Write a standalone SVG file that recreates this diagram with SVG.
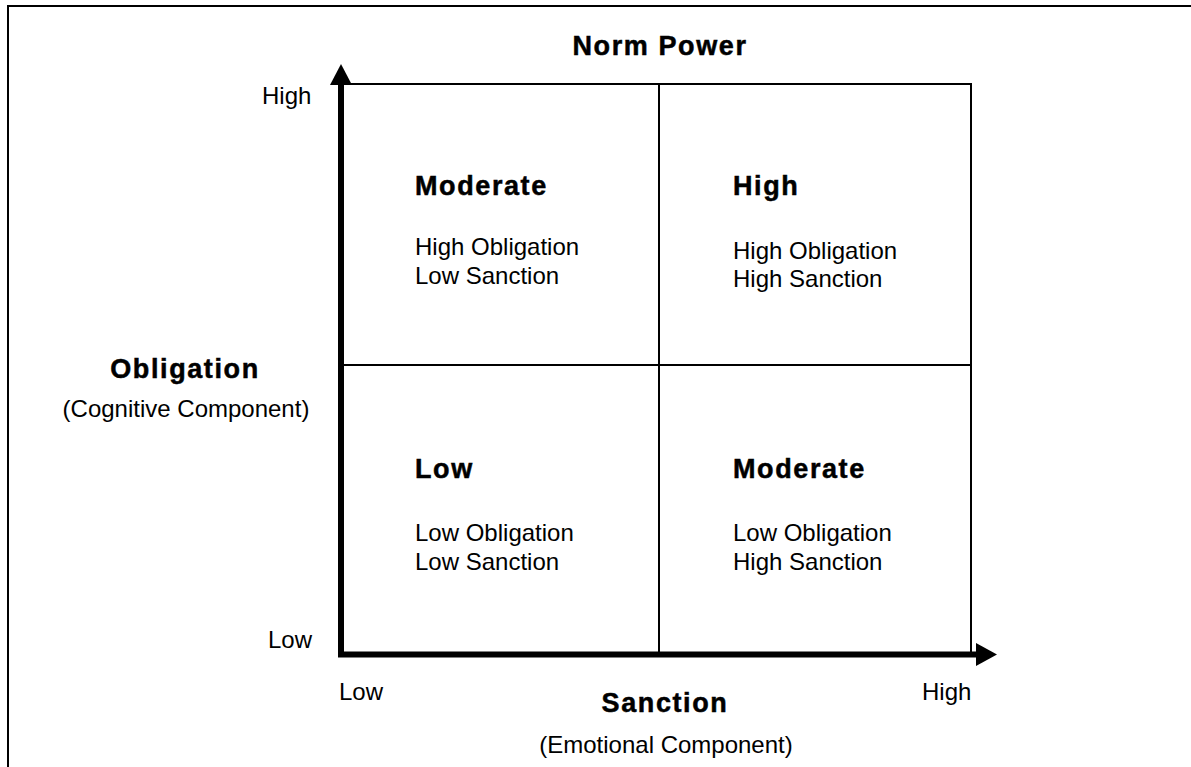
<svg xmlns="http://www.w3.org/2000/svg" width="1191" height="767" viewBox="0 0 1191 767">
<style>
.t{font-family:"Liberation Sans",Arial,sans-serif;fill:#000}
.b{font-weight:bold;font-size:27px;letter-spacing:1.6px;stroke:#000;stroke-width:0.5}
.r{font-size:24px}
.thin{stroke:#000;stroke-width:2;fill:none}
.axis{stroke:#000;stroke-width:6;fill:none}
</style>
<rect width="1191" height="767" fill="#fff"/>
<g id="frame">
<line class="thin" x1="7" y1="6" x2="1191" y2="6"/>
<line class="thin" x1="8" y1="5" x2="8" y2="767"/>
</g>
<g id="grid">
<rect class="thin" x="341" y="84" width="630" height="570"/>
<line class="thin" x1="659" y1="84" x2="659" y2="654"/>
<line class="thin" x1="341" y1="365" x2="971" y2="365"/>
</g>
<g id="connectors">
<line class="axis" x1="341" y1="657" x2="341" y2="82"/>
<polygon points="341,64 330,85 352,85" fill="#000"/>
<line class="axis" x1="338" y1="654.5" x2="978" y2="654.5"/>
<polygon points="997,654.5 976,643 976,666" fill="#000"/>
</g>
<g id="title"><text class="t b" x="660" y="55" text-anchor="middle">Norm Power</text></g>
<g id="y-axis-labels">
<text class="t r" x="262" y="104">High</text>
<text class="t r" x="268" y="648">Low</text>
<text class="t b" x="185" y="378" text-anchor="middle">Obligation</text>
<text class="t r" x="186" y="417" text-anchor="middle">(Cognitive Component)</text>
</g>
<g id="x-axis-labels">
<text class="t r" x="339" y="700">Low</text>
<text class="t r" x="922" y="700">High</text>
<text class="t b" x="665" y="712" text-anchor="middle">Sanction</text>
<text class="t r" x="666" y="753" text-anchor="middle">(Emotional Component)</text>
</g>
<g id="q-top-left">
<text class="t b" x="415" y="195">Moderate</text>
<text class="t r" x="415" y="255">High Obligation</text>
<text class="t r" x="415" y="284">Low Sanction</text>
</g>
<g id="q-top-right">
<text class="t b" x="733" y="195">High</text>
<text class="t r" x="733" y="259">High Obligation</text>
<text class="t r" x="733" y="287">High Sanction</text>
</g>
<g id="q-bottom-left">
<text class="t b" x="415" y="478">Low</text>
<text class="t r" x="415" y="541">Low Obligation</text>
<text class="t r" x="415" y="570">Low Sanction</text>
</g>
<g id="q-bottom-right">
<text class="t b" x="733" y="478">Moderate</text>
<text class="t r" x="733" y="541">Low Obligation</text>
<text class="t r" x="733" y="570">High Sanction</text>
</g>
</svg>
